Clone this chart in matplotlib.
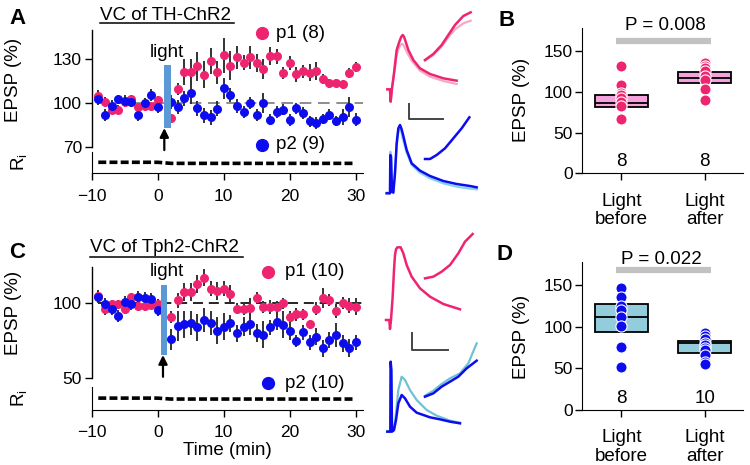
import matplotlib
matplotlib.use("Agg")
import matplotlib.pyplot as plt
from matplotlib.lines import Line2D

plt.rcParams['font.family'] = ['Liberation Sans', 'DejaVu Sans']
plt.rcParams['mathtext.default'] = 'regular'

# ---------------- data ----------------
t_base = [-9, -8, -7, -6, -5, -4, -3, -2, -1, 0]
t_post = [2, 3, 4, 5, 6, 7, 8, 9, 10, 11, 12, 13, 14, 15, 16, 17, 18, 19, 20,
          21, 22, 23, 24, 25, 26, 27, 28, 29, 30]
times = t_base + t_post

# Panel A (TH-ChR2)
a_p1 = [104.6, 100.7, 95.4, 95.4, 100.5, 102.5, 97.0, 97.5, 97.5, 101.8,
        89.6, 109.2, 120.8, 120.8, 124.9, 119.2, 128.4, 120.8,
        132.3, 125.4, 131.0, 127.5, 131.0, 127.2, 123.1, 131.8, 131.8, 120.1,
        127.2, 119.4, 121.5, 120.6, 121.7, 116.2, 113.2, 113.5, 112.5, 120.1, 124.4]
a_p1_err = [4, 3, 3, 3, 3, 3, 3, 3, 3, 3,
            3, 4, 9, 9, 10, 9, 9, 8,
            12, 10, 8, 5, 8, 6, 7, 6, 5, 4, 5, 5, 4.5, 6, 6, 3.5, 3, 3, 3, 3.5, 3.5]
a_p2 = [102.3, 91.7, 97.7, 102.3, 101.2, 100.8, 91.4, 99.6, 105.5, 96.8,
        100.5, 97.0, 103.0, 106.9, 96.1, 91.5, 90.1, 96.0,
        109.9, 105.3, 97.7, 93.8, 100.0, 91.5, 100.0, 88.5, 93.8, 95.4,
        88.0, 96.1, 93.1, 87.3, 86.1, 89.1, 91.9, 87.3, 90.1, 97.0, 88.5]
a_p2_err = [4, 4, 4, 3, 4, 4, 4, 4, 4, 4,
            5, 5, 5, 8, 5, 5, 5, 5,
            7, 5, 5, 4, 4, 4, 7, 3.5, 4, 4, 4, 4, 4, 4, 4, 3.5, 4, 3.5, 5.5, 7, 4.5]
a_ri = [1.02] * 10 + [0.92] * 29

# Panel C (Tph2-ChR2)
c_p1 = [104.9, 96.0, 99.5, 99.5, 96.0, 104.0, 98.2, 98.2, 98.9, 99.6,
        90.7, 102.0, 107.5, 107.5, 112.7, 117.1, 109.8, 108.0, 109.6, 106.5,
        96.5, 96.5, 96.7, 103.3, 97.5, 97.5, 97.8, 100.0, 91.0, 92.7, 92.7,
        86.1, 96.5, 103.5, 102.3, 95.0, 100.0, 98.5, 97.8]
c_p1_err = [4, 4, 3, 3, 3, 3, 3, 3, 3, 3,
            4, 5, 6, 6, 6, 5.5, 5, 6, 5, 5.5, 3.5, 4.5, 7, 4, 4, 4.5, 4, 3.5,
            4, 4.5, 3.5, 3, 4.5, 6.5, 4, 4.5, 4, 5, 5.5]
c_p2 = [104.2, 99.3, 95.9, 91.8, 101.0, 99.6, 104.4, 103.3, 102.8, 95.6,
        76.2, 84.9, 86.1, 87.2, 84.0, 88.6, 86.7, 81.7, 84.4, 86.7, 80.0,
        84.4, 86.2, 80.0, 78.9, 84.0, 87.8, 85.6, 81.6, 74.9, 80.7, 74.0,
        77.8, 70.0, 75.6, 78.9, 73.3, 70.4, 74.0]
c_p2_err = [4, 4, 4, 4, 4, 4, 4, 4, 4, 4,
            7, 10, 9, 8, 9, 8, 8, 9, 9, 5.5, 5.5, 6.5, 7, 6, 9, 5, 5.5, 9,
            6, 4, 5, 5, 5.5, 5.5, 5.5, 8, 5.5, 6, 5]
c_ri = [1.02] * 10 + [0.94] * 29

# Panels B and D (box summaries + individual cells)
groups = ['Light\nbefore', 'Light\nafter']
b_before = [132, 108, 99, 96, 93, 88, 83, 67]
b_after = [135, 132, 129, 125, 120, 115, 104, 90]
b_box = [(81.7, 86.6, 96.0), (110.4, 117.3, 124.7)]   # (q1, median, q3)
b_n = ['8', '8']
b_p = 'P = 0.008'
d_before = [147, 136, 125, 120, 112, 101, 76, 52]
d_after = [92, 89, 85, 81, 78, 75, 72, 66, 58, 55]
d_box = [(94.0, 111.5, 127.7), (68.0, 80.0, 82.3)]
d_n = ['8', '10']
d_p = 'P = 0.022'

# Example traces (arbitrary units; y downwards)
trA_p1_x = [22, 30, 32, 36, 42, 50, 58, 64, 68, 72, 78, 85, 100, 120, 150, 190, 230]
trA_p1_y = [268, 268, 305, 265, 220, 150, 125, 110, 105, 110, 128, 150, 180, 205, 222, 235, 242]
trA_p1l_x = [22, 30, 32, 36, 42, 50, 58, 64, 68, 72, 80, 95, 120, 150, 190, 230]
trA_p1l_y = [268, 268, 305, 265, 222, 165, 140, 132, 132, 138, 155, 182, 212, 230, 243, 252]
insA_p1_x = [135, 160, 185, 205, 225, 250, 272]
insA_p1_y = [180, 162, 135, 105, 75, 48, 37]
insA_p1l_y = [182, 165, 140, 112, 88, 70, 62]
trA_p2_x = [20, 30, 31, 33, 36, 40, 45, 50, 55, 60, 64, 68, 80, 95, 120, 150, 190, 230, 270, 290]
trA_p2_y = [580, 580, 465, 470, 575, 578, 520, 430, 385, 375, 385, 400, 450, 490, 512, 528, 543, 552, 558, 562]
trA_p2l_y = [578, 578, 455, 462, 572, 575, 515, 435, 395, 385, 395, 415, 458, 495, 518, 535, 550, 560, 566, 568]
insA_p2_x = [135, 150, 170, 195, 220, 245, 268]
insA_p2_y = [477, 477, 465, 445, 415, 385, 352]

trC_p1_x = [18, 28, 30, 33, 38, 42, 45, 48, 52, 62, 70, 80, 95, 120, 150, 190, 240]
trC_p1_y = [270, 270, 297, 270, 200, 120, 75, 58, 52, 52, 70, 105, 140, 175, 200, 222, 238]
insC_p1_x = [135, 160, 185, 210, 235, 255, 278]
insC_p1_y = [145, 140, 125, 105, 70, 35, 12]
trC_p2_x = [22, 31, 32, 34, 36, 42, 48, 55, 65, 75, 90, 110, 130, 150, 180, 210, 240]
trC_p2_y = [605, 605, 395, 420, 605, 600, 570, 520, 495, 505, 530, 548, 555, 562, 568, 575, 580]
trC_p2l_x = [22, 31, 32, 34, 36, 42, 48, 55, 65, 75, 90, 110, 140, 170, 210, 240]
trC_p2l_y = [603, 603, 400, 425, 603, 598, 550, 480, 440, 450, 480, 510, 540, 557, 572, 578]
insC_p2_x = [135, 160, 185, 210, 235, 260, 290]
insC_p2_y = [500, 490, 470, 455, 440, 415, 392]
insC_p2l_x = [135, 160, 185, 210, 240, 265, 290]
insC_p2l_y = [497, 482, 462, 445, 430, 400, 340]

# ---------------- style ----------------
PINK = '#ef2470'
BLUE = '#0c0cee'
LPINK = '#f6a8c6'
LBLUE_A = '#86d2f2'
CYAN_C = '#6fc2d2'
BAR = '#5b98d6'
BOXB = '#f3a2dc'
BOXD = '#93cddc'
ERR = '#333333'
FS = 13.5      # labels / annotations
TFS = 12.5     # tick labels

W, H = 750.0, 465.0


def rect(x0, y0, x1, y1):
    return [x0 / W, 1 - y1 / H, (x1 - x0) / W, (y1 - y0) / H]


fig = plt.figure(figsize=(7.5, 4.65), dpi=100)


def time_panel(r_main, r_ri, ylim, yticks, p1, p1e, p2, p2e, ri, dash_col,
               bar_x, bar_lo, bar_hi, arrow_x, arrow_lo, light_xy,
               leg1, leg2, lab1, lab2, xlabel=False):
    axr = fig.add_axes(rect(*r_ri))
    axr.patch.set_visible(False)
    axr.set_xlim(-10, 31.1)
    axr.set_ylim(0, 2)
    for s in ['top', 'right']:
        axr.spines[s].set_visible(False)
    axr.set_yticks([])
    axr.set_xticks([-10, 0, 10, 20, 30])
    axr.tick_params(axis='x', labelsize=TFS, length=5, width=1, pad=6)
    axr.plot(times, ri, color='k', lw=2.6, dashes=(2.2, 0.9))
    if xlabel:
        axr.set_xlabel('Time (min)', fontsize=FS, labelpad=1)

    ax = fig.add_axes(rect(*r_main))
    ax.patch.set_visible(False)
    ax.set_xlim(-10, 31.1)
    ax.set_ylim(*ylim)
    for s in ['top', 'right', 'bottom']:
        ax.spines[s].set_visible(False)
    ax.set_xticks([])
    ax.set_yticks(yticks)
    ax.tick_params(axis='y', labelsize=TFS, length=5, width=1, pad=2)
    ax.spines['left'].set_linewidth(1)
    ax.plot([-9, 31.1], [100, 100], color=dash_col, lw=1.2,
            dashes=(7, 4) if dash_col != 'k' else (6, 3.5), zorder=1)
    ax.bar(bar_x[0] + (bar_x[1] - bar_x[0]) / 2, bar_hi - bar_lo, bottom=bar_lo,
           width=bar_x[1] - bar_x[0], color=BAR, zorder=4)
    ax.errorbar(times, p1, yerr=p1e, fmt='none', ecolor=ERR, elinewidth=1.4, zorder=2)
    ax.errorbar(times, p2, yerr=p2e, fmt='none', ecolor=ERR, elinewidth=1.4, zorder=2)
    ax.plot(times, p1, 'o', color=PINK, ms=6.5, mec='none', zorder=3)
    ax.plot(times, p2, 'o', color=BLUE, ms=6.5, mec='none', zorder=3)
    ax.annotate('', xy=(arrow_x, bar_lo), xytext=(arrow_x, arrow_lo),
                arrowprops=dict(arrowstyle='-|>', color='k', lw=1.6, mutation_scale=13,
                                shrinkA=0, shrinkB=0),
                annotation_clip=False)
    ax.text(light_xy[0], light_xy[1], 'light', ha='center', va='center', fontsize=FS)
    ax.plot([leg1[0]], [leg1[1]], 'o', color=PINK, ms=8.5, transform=ax.transAxes, clip_on=False)
    ax.plot([leg2[0]], [leg2[1]], 'o', color=BLUE, ms=8.5, transform=ax.transAxes, clip_on=False)
    ax.text(leg1[2], leg1[1], lab1, transform=ax.transAxes, fontsize=FS, va='center')
    ax.text(leg2[2], leg2[1], lab2, transform=ax.transAxes, fontsize=FS, va='center')
    return ax, axr


axA, axAr = time_panel((91.7, 30, 363, 146.7), (91.7, 151.7, 363, 173.3),
                       (70, 149.7), [70, 100, 130], a_p1, a_p1_err, a_p2, a_p2_err,
                       a_ri, '#7a7a7a', (1.0, 2.0), 82.7, 126.1, 1.0, 67.7, (1.4, 134.6),
                       (0.627, 0.972, 0.68), (0.627, 0.015, 0.68), 'p1 (8)', 'p2 (9)')
axC, axCr = time_panel((91.7, 266.7, 363, 378.3), (91.7, 386.7, 363, 410),
                       (50, 124.4), [50, 100], c_p1, c_p1_err, c_p2, c_p2_err,
                       c_ri, 'k', (0.45, 1.45), 65.5, 112.2, 0.8, 51.0, (1.4, 121.0),
                       (0.651, 0.955, 0.712), (0.651, -0.045, 0.712), 'p1 (10)', 'p2 (10)',
                       xlabel=True)

# labels and titles
for py in (80, 313):
    fig.text(14 / W, 1 - py / H, 'EPSP (%)', rotation=90, ha='center', va='center', fontsize=FS)
for py in (162, 398):
    fig.text(19 / W, 1 - py / H, r'R$_{\mathregular{i}}$', rotation=90, ha='center',
             va='center', fontsize=FS)
fig.text(100 / W, 1 - 15 / H, 'VC of TH-ChR2', fontsize=FS, ha='left', va='center')
fig.add_artist(Line2D([100 / W, 234 / W], [1 - 23.5 / H] * 2, color='k', lw=1.1))
fig.text(90 / W, 1 - 248 / H, 'VC of Tph2-ChR2', fontsize=FS, ha='left', va='center')
fig.add_artist(Line2D([90 / W, 243 / W], [1 - 256.5 / H] * 2, color='k', lw=1.1))
for lab, px, py in [('A', 17, 19), ('B', 507, 20), ('C', 17, 252), ('D', 505, 255)]:
    fig.text(px / W, 1 - py / H, lab, fontsize=16, fontweight='bold', ha='center', va='center')


# traces
def trace_ax(r, ymax):
    ax = fig.add_axes(rect(*r))
    ax.set_xlim(0, 300)
    ax.set_ylim(ymax, 0)
    ax.axis('off')
    return ax


tA = trace_ax((380, 0, 480, 200), 600)
tA.plot(trA_p1l_x, trA_p1l_y, color=LPINK, lw=1.6)
tA.plot(trA_p1_x, trA_p1_y, color=PINK, lw=1.8)
tA.plot(insA_p1_x, insA_p1l_y, color=LPINK, lw=1.6)
tA.plot(insA_p1_x, insA_p1_y, color=PINK, lw=1.8)
tA.plot(trA_p2_x, trA_p2l_y, color=LBLUE_A, lw=1.6)
tA.plot(trA_p2_x, trA_p2_y, color=BLUE, lw=1.8)
tA.plot(insA_p2_x, insA_p2_y, color=BLUE, lw=1.8)
tA.plot([88, 88, 190], [312, 358, 358], color='#444444', lw=1.4)

tC = trace_ax((380, 230, 480, 435), 615)
tC.plot(trC_p1_x, trC_p1_y, color=PINK, lw=1.8)
tC.plot(insC_p1_x, insC_p1_y, color=PINK, lw=1.8)
tC.plot(trC_p2l_x, trC_p2l_y, color=CYAN_C, lw=1.6)
tC.plot(trC_p2_x, trC_p2_y, color=BLUE, lw=1.8)
tC.plot(insC_p2l_x, insC_p2l_y, color=CYAN_C, lw=1.6)
tC.plot(insC_p2_x, insC_p2_y, color=BLUE, lw=1.8)
tC.plot([95, 95, 205], [310, 360, 360], color='#444444', lw=1.4)


# box panels
def box_panel(r, before, after, box, fill, col, ns, ptxt, sig_y, ylabel_py, p_px):
    ax = fig.add_axes(rect(*r))
    ax.set_xlim(-0.47, 1.46)
    ax.set_ylim(0, 178)
    for s in ['top', 'right']:
        ax.spines[s].set_visible(False)
    stats = []
    for (q1, med, q3) in box:
        stats.append(dict(med=med, q1=q1, q3=q3, whislo=q1, whishi=q3, fliers=[]))
    ax.bxp(stats, positions=[0, 1], widths=0.63, patch_artist=True, showcaps=False,
           showfliers=False,
           boxprops=dict(facecolor=fill, edgecolor='k', lw=1.3),
           medianprops=dict(color='k', lw=1.3), whiskerprops=dict(lw=0))
    ax.plot([0] * len(before), before, 'o', color=col, ms=8, mec='white', mew=0.8, zorder=5)
    ax.plot([1] * len(after), after, 'o', color=col, ms=8, mec='white', mew=0.8, zorder=5)
    ax.plot([-0.07, 1.07], [sig_y, sig_y], color='#c2c2c2', lw=4.5, solid_capstyle='butt')
    ax.set_yticks([0, 50, 100, 150])
    ax.set_xticks([0, 1])
    ax.set_xticklabels(groups, linespacing=1.1)
    ax.tick_params(axis='y', labelsize=TFS, length=5, width=1, pad=2)
    ax.tick_params(axis='x', labelsize=FS, length=5, width=1, pad=9)
    for i, n in enumerate(ns):
        ax.text(i, 14, n, ha='center', va='center', fontsize=FS)
    fig.text(p_px[0] / W, 1 - p_px[1] / H, ptxt, ha='center', va='center', fontsize=FS)
    fig.text(521 / W, 1 - ylabel_py / H, 'EPSP (%)', rotation=90, ha='center', va='center',
             fontsize=FS)
    return ax


box_panel((582.3, 28.3, 743, 173.3), b_before, b_after, b_box, BOXB, PINK, b_n, b_p,
          162, 100, (665, 25))
box_panel((582.3, 261.7, 743, 410), d_before, d_after, d_box, BOXD, BLUE, d_n, d_p,
          168, 337, (661, 260))

fig.savefig('out.png', dpi=100)
